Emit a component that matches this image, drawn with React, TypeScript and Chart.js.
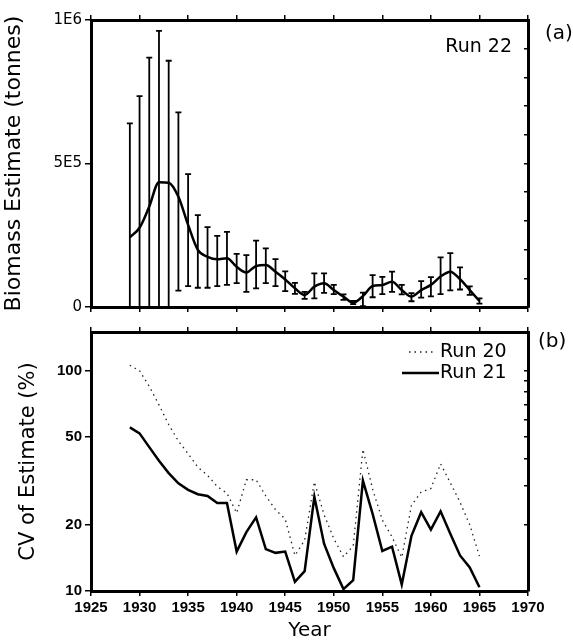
import React, { useEffect, useRef } from 'react';
import { Chart, registerables } from 'chart.js';

Chart.register(...registerables);

// ---- data ----
const years = [
  1929, 1930, 1931, 1932, 1933, 1934, 1935, 1936, 1937, 1938, 1939, 1940, 1941,
  1942, 1943, 1944, 1945, 1946, 1947, 1948, 1949, 1950, 1951, 1952, 1953, 1954,
  1955, 1956, 1957, 1958, 1959, 1960, 1961, 1962, 1963, 1964, 1965,
];

// Run 22 biomass estimate, thousand tonnes
const biomass = [
  243, 276, 350, 435, 433, 384, 286, 199, 175, 166, 170, 140, 120,
  143, 146, 123, 96, 65, 42, 71, 83, 59, 36, 15, 38, 73,
  77, 88, 59, 36, 59, 77, 106, 123, 97, 59, 21,
];
const biomassHigh = [
  640, 735, 869, 962, 858, 678, 463, 320, 278, 248, 262, 185, 181,
  231, 204, 167, 124, 84, 53, 117, 117, 77, 44, 21, 50, 111,
  105, 123, 77, 48, 90, 104, 173, 188, 138, 72, 30,
];
const biomassLow = [
  0, 0, 0, 0, 0, 57, 73, 67, 67, 73, 77, 83, 53,
  65, 83, 73, 55, 46, 28, 30, 49, 45, 25, 10, 3, 34,
  45, 53, 44, 20, 33, 37, 45, 58, 61, 42, 12,
];

// CV of estimate (%)
const cvRun20 = [
  106, 100, 85, 70, 57, 48, 42, 36.5, 33.5, 29.8, 27.8, 22.6, 32,
  32, 27, 23.4, 21.2, 14.5, 17, 31.3, 22.2, 17.3, 14.3, 16, 44, 29,
  21, 17.6, 14.2, 24.5, 28.2, 29.2, 37.8, 31, 25.3, 20, 14.4,
];
const cvRun21 = [
  55.3, 52, 45, 39, 34.3, 30.8, 28.8, 27.5, 27, 25.1, 25.1, 15.1, 18.5,
  21.6, 15.5, 14.9, 15.1, 11, 12.3, 26.8, 16.4, 12.7, 10.2, 11.2, 31.7, 22.4,
  15.2, 15.9, 10.7, 17.8, 22.8, 19, 23, 18.2, 14.5, 12.8, 10.4,
];

const biomassTickValues = [0, 500, 1000];
const biomassTickLabels = ['0', '5E5', '1E6'];
const cvTickValues = [10, 20, 50, 100];
const cvTickLabels = ['10', '20', '50', '100'];
const cvMinorTicks = [20, 30, 40, 50, 60, 70, 80, 90, 100];

const FONT = 'DejaVu Sans';
const TICK_FONT = 'Liberation Sans';

const gridBase = (len: number) => ({
  drawOnChartArea: false,
  drawTicks: true,
  tickLength: len,
  color: '#000',
  lineWidth: 1.5,
});
const borderBase = { display: true, color: '#000', width: 3 };

const textPlugin = (id: string, items: any[]) => ({
  id,
  afterDraw(chart: any) {
    const ctx = chart.ctx;
    ctx.save();
    ctx.fillStyle = '#000';
    ctx.textBaseline = 'middle';
    for (const it of items) {
      ctx.font = it.font;
      ctx.textAlign = it.align;
      ctx.fillText(it.text, it.x, it.y);
    }
    ctx.restore();
  },
});

const errorBarPlugin = {
  id: 'errorBars',
  afterDatasetsDraw(chart: any) {
    const xs = chart.scales.x;
    const ys = chart.scales.y;
    const ctx = chart.ctx;
    ctx.save();
    ctx.strokeStyle = '#000';
    ctx.lineWidth = 1.8;
    years.forEach((yr, i) => {
      const x = xs.getPixelForValue(yr);
      const y1 = ys.getPixelForValue(biomassLow[i]);
      const y2 = ys.getPixelForValue(biomassHigh[i]);
      ctx.beginPath();
      ctx.moveTo(x, y1);
      ctx.lineTo(x, y2);
      ctx.moveTo(x - 3, y2);
      ctx.lineTo(x + 3, y2);
      if (biomassLow[i] > 0) {
        ctx.moveTo(x - 3, y1);
        ctx.lineTo(x + 3, y1);
      }
      ctx.stroke();
    });
    ctx.restore();
  },
};

const legendPlugin = {
  id: 'cvLegend',
  afterDraw(chart: any) {
    const ctx = chart.ctx;
    const rows = [
      { y: 32, x0: 409, x1: 434 },
      { y: 53, x0: 402, x1: 439 },
    ];
    ctx.save();
    chart.data.datasets.forEach((ds: any, i: number) => {
      const r = rows[i];
      ctx.strokeStyle = ds.borderColor;
      ctx.lineWidth = ds.borderWidth;
      ctx.setLineDash(ds.borderDash || []);
      ctx.beginPath();
      ctx.moveTo(r.x0, r.y);
      ctx.lineTo(r.x1, r.y);
      ctx.stroke();
      ctx.setLineDash([]);
      ctx.fillStyle = '#000';
      ctx.font = `19px "${FONT}"`;
      ctx.textAlign = 'left';
      ctx.textBaseline = 'middle';
      ctx.fillText(ds.label, 440, r.y);
    });
    ctx.restore();
  },
};

export default function App() {
  const topRef = useRef<HTMLCanvasElement>(null);
  const botRef = useRef<HTMLCanvasElement>(null);

  useEffect(() => {
    const top = new Chart(topRef.current as HTMLCanvasElement, {
      type: 'line',
      data: {
        datasets: [
          {
            label: 'Run 22',
            data: years.map((x, i) => ({ x, y: biomass[i] })),
            borderColor: '#000',
            borderWidth: 2.5,
            pointRadius: 0,
            cubicInterpolationMode: 'monotone',
            fill: false,
          },
        ],
      },
      options: {
        responsive: false,
        animation: false,
        devicePixelRatio: 1,
        layout: { padding: 0 },
        plugins: { legend: { display: false }, tooltip: { enabled: false } },
        scales: {
          x: {
            type: 'linear',
            position: 'bottom',
            min: 1925,
            max: 1970,
            ticks: { display: false, stepSize: 5, autoSkip: false },
            grid: gridBase(5),
            border: borderBase,
            afterFit: (s: any) => { s.height = 13; },
          },
          x2: {
            type: 'linear',
            position: 'top',
            min: 1925,
            max: 1970,
            ticks: { display: false, stepSize: 5, autoSkip: false },
            grid: gridBase(5),
            border: borderBase,
            afterFit: (s: any) => { s.height = 20; },
          },
          y: {
            type: 'linear',
            position: 'left',
            min: 0,
            max: 1000,
            afterBuildTicks: (s: any) => {
              s.ticks = biomassTickValues.map((v) => ({ value: v }));
            },
            ticks: {
              autoSkip: false,
              padding: 3,
              color: '#000',
              font: { family: FONT, size: 15 },
              callback: (v: any) => biomassTickLabels[biomassTickValues.indexOf(Number(v))] ?? '',
            },
            grid: gridBase(6),
            border: borderBase,
            title: {
              display: true,
              text: 'Biomass Estimate (tonnes)',
              color: '#000',
              font: { family: FONT, size: 22 },
              padding: { top: 1, bottom: 0 },
            },
            afterFit: (s: any) => { s.width = 91; },
          },
          y2: {
            type: 'linear',
            position: 'right',
            min: 0,
            max: 1000,
            ticks: { display: false, stepSize: 100, autoSkip: false },
            grid: gridBase(-4),
            border: borderBase,
            afterFit: (s: any) => { s.width = 45; },
          },
        },
      } as any,
      plugins: [
        errorBarPlugin,
        textPlugin('topText', [
          { text: 'Run 22', x: 512, y: 47, align: 'right', font: `19px "${FONT}"` },
          { text: '(a)', x: 545, y: 34, align: 'left', font: `20px "${FONT}"` },
        ]),
      ],
    });

    const bot = new Chart(botRef.current as HTMLCanvasElement, {
      type: 'line',
      data: {
        datasets: [
          {
            label: 'Run 20',
            data: years.map((x, i) => ({ x, y: cvRun20[i] })),
            borderColor: '#222',
            borderWidth: 1.3,
            borderDash: [1.5, 4],
            pointRadius: 0,
            tension: 0,
            fill: false,
          },
          {
            label: 'Run 21',
            data: years.map((x, i) => ({ x, y: cvRun21[i] })),
            borderColor: '#000',
            borderWidth: 2.5,
            pointRadius: 0,
            tension: 0,
            fill: false,
          },
        ],
      },
      options: {
        responsive: false,
        animation: false,
        devicePixelRatio: 1,
        layout: { padding: 0 },
        plugins: { legend: { display: false }, tooltip: { enabled: false } },
        scales: {
          x: {
            type: 'linear',
            position: 'bottom',
            min: 1925,
            max: 1970,
            ticks: {
              stepSize: 5,
              autoSkip: false,
              maxRotation: 0,
              padding: 3,
              color: '#000',
              font: { family: TICK_FONT, size: 15, weight: 'bold' },
              callback: (v: any) => String(v),
            },
            grid: gridBase(5),
            border: borderBase,
            title: {
              display: true,
              text: 'Year',
              color: '#000',
              font: { family: FONT, size: 20, lineHeight: 1 },
              padding: { top: 0, bottom: 0 },
            },
            afterFit: (s: any) => { s.height = 50; },
          },
          x2: {
            type: 'linear',
            position: 'top',
            min: 1925,
            max: 1970,
            ticks: { display: false, stepSize: 5, autoSkip: false },
            grid: gridBase(5),
            border: borderBase,
            afterFit: (s: any) => { s.height = 7; },
          },
          y: {
            type: 'logarithmic',
            position: 'left',
            min: 10,
            max: 150,
            afterBuildTicks: (s: any) => {
              s.ticks = cvTickValues.map((v) => ({ value: v }));
            },
            ticks: {
              autoSkip: false,
              padding: 3,
              color: '#000',
              font: { family: TICK_FONT, size: 15, weight: 'bold' },
              callback: (v: any) => cvTickLabels[cvTickValues.indexOf(Number(v))] ?? '',
            },
            grid: gridBase(6),
            border: borderBase,
            title: {
              display: true,
              text: 'CV of Estimate (%)',
              color: '#000',
              font: { family: FONT, size: 21 },
              padding: { top: 16, bottom: 0 },
            },
            afterFit: (s: any) => { s.width = 91; },
          },
          y2: {
            type: 'logarithmic',
            position: 'right',
            min: 10,
            max: 150,
            afterBuildTicks: (s: any) => {
              s.ticks = cvMinorTicks.map((v) => ({ value: v }));
            },
            ticks: { display: false, autoSkip: false },
            grid: gridBase(-4),
            border: borderBase,
            afterFit: (s: any) => { s.width = 45; },
          },
        },
      } as any,
      plugins: [
        legendPlugin,
        textPlugin('botText', [
          { text: '(b)', x: 538, y: 22, align: 'left', font: `20px "${FONT}"` },
        ]),
      ],
    });

    return () => {
      top.destroy();
      bot.destroy();
    };
  }, []);

  return (
    <div style={{ position: 'absolute', left: 0, top: 0, width: 573, height: 641, background: '#fff' }}>
      <canvas
        ref={topRef}
        width={573}
        height={320}
        style={{ position: 'absolute', left: 0, top: 0, width: 573, height: 320, display: 'block' }}
      />
      <canvas
        ref={botRef}
        width={573}
        height={321}
        style={{ position: 'absolute', left: 0, top: 320, width: 573, height: 321, display: 'block' }}
      />
    </div>
  );
}
